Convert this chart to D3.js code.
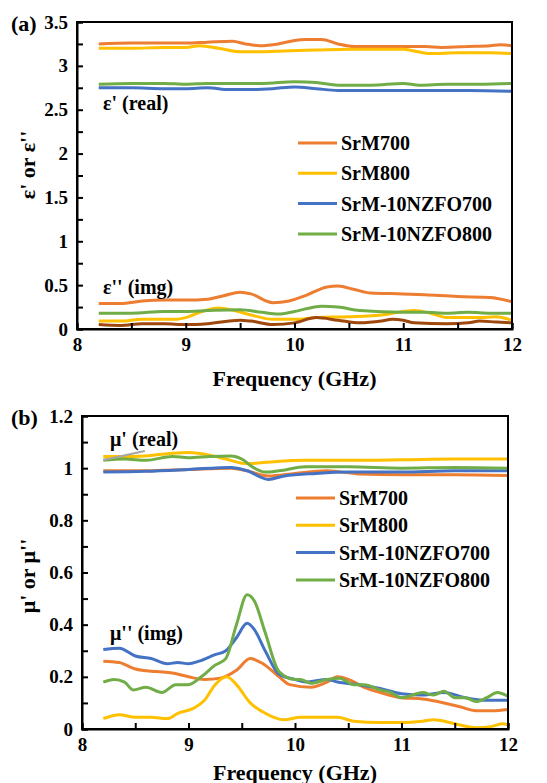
<!DOCTYPE html>
<html>
<head>
<meta charset="utf-8">
<script src="https://cdn.jsdelivr.net/npm/d3@7"></script>
<style>
  body { margin: 0; background: #fff; }
  svg { display: block; }
</style>
</head>
<body>
<svg id="chart" width="547" height="783" font-family="Liberation Serif" font-weight="bold"></svg>
<script>
// permittivity / permeability vs frequency, two panels
const names = ["SrM700", "SrM800", "SrM-10NZFO700", "SrM-10NZFO800"];
const colors = ["#ED7D31", "#FFC000", "#4472C4", "#70AD47"];
const brown = "#9E480E";
const serif = "Liberation Serif";

const xTicks = [8, 9, 10, 11, 12];
const epsTicks = [0, 0.5, 1, 1.5, 2, 2.5, 3, 3.5];
const muTicks = [0, 0.2, 0.4, 0.6, 0.8, 1, 1.2];

// (a) eps' real part
const epsReal = [
  [[8.2,3.25],[8.5,3.26],[8.8,3.26],[9.0,3.26],[9.2,3.27],[9.43,3.28],[9.55,3.25],[9.68,3.23],[9.85,3.25],[10.0,3.29],[10.1,3.30],[10.25,3.30],[10.4,3.25],[10.55,3.22],[10.8,3.22],[11.0,3.22],[11.2,3.22],[11.35,3.21],[11.6,3.22],[11.8,3.23],[11.9,3.24],[12.0,3.23]],
  [[8.2,3.2],[8.5,3.2],[8.8,3.21],[9.0,3.21],[9.13,3.23],[9.3,3.2],[9.5,3.16],[9.7,3.16],[9.9,3.17],[10.2,3.18],[10.5,3.19],[10.8,3.19],[11.0,3.19],[11.1,3.17],[11.25,3.14],[11.5,3.15],[11.8,3.15],[12.0,3.14]],
  [[8.2,2.75],[8.5,2.75],[8.8,2.74],[9.0,2.74],[9.2,2.75],[9.4,2.73],[9.6,2.73],[9.8,2.74],[10.0,2.76],[10.2,2.74],[10.4,2.72],[10.8,2.72],[11.2,2.72],[11.6,2.72],[12.0,2.71]],
  [[8.2,2.79],[8.5,2.8],[8.8,2.8],[9.0,2.79],[9.2,2.8],[9.5,2.8],[9.7,2.8],[10.0,2.82],[10.2,2.81],[10.4,2.78],[10.7,2.78],[11.0,2.8],[11.15,2.78],[11.4,2.79],[11.7,2.79],[12.0,2.8]]
];
// (a) eps'' imaginary part (the third one is drawn brown in the original)
const epsImg = [
  [[8.2,0.29],[8.4,0.29],[8.6,0.32],[8.8,0.33],[9.0,0.33],[9.2,0.34],[9.35,0.38],[9.5,0.42],[9.6,0.40],[9.8,0.30],[9.95,0.32],[10.1,0.38],[10.3,0.48],[10.4,0.49],[10.55,0.45],[10.7,0.41],[11.0,0.40],[11.2,0.39],[11.5,0.37],[11.8,0.36],[12.0,0.31]],
  [[8.2,0.09],[8.4,0.09],[8.6,0.11],[8.9,0.11],[9.0,0.13],[9.15,0.2],[9.3,0.24],[9.45,0.21],[9.6,0.16],[9.8,0.11],[10.0,0.11],[10.2,0.13],[10.5,0.14],[10.8,0.16],[11.0,0.2],[11.1,0.21],[11.25,0.18],[11.4,0.13],[11.7,0.13],[11.85,0.14],[12.0,0.1]],
  [[8.2,0.05],[8.4,0.04],[8.6,0.06],[8.8,0.06],[9.0,0.05],[9.2,0.06],[9.5,0.1],[9.6,0.09],[9.8,0.05],[10.0,0.07],[10.2,0.13],[10.4,0.1],[10.6,0.07],[10.8,0.09],[10.9,0.11],[11.0,0.1],[11.1,0.07],[11.4,0.06],[11.6,0.07],[11.7,0.09],[11.85,0.08],[12.0,0.07]],
  [[8.2,0.18],[8.5,0.18],[8.8,0.2],[9.0,0.2],[9.2,0.21],[9.5,0.22],[9.7,0.19],[9.85,0.17],[10.0,0.2],[10.25,0.26],[10.4,0.25],[10.6,0.21],[11.0,0.19],[11.2,0.19],[11.4,0.18],[11.6,0.19],[11.8,0.18],[12.0,0.18]]
];
// (b) mu' real part
const muReal = [
  [[8.2,0.99],[8.6,0.99],[9.0,0.995],[9.4,1.0],[9.55,0.99],[9.75,0.97],[10.0,0.98],[10.3,0.99],[10.6,0.978],[11.0,0.975],[11.5,0.975],[12.0,0.972]],
  [[8.2,1.045],[8.5,1.045],[8.8,1.055],[9.0,1.06],[9.2,1.05],[9.35,1.035],[9.55,1.017],[9.8,1.025],[10.1,1.03],[10.5,1.03],[11.0,1.032],[11.5,1.035],[12.0,1.035]],
  [[8.2,0.985],[8.6,0.988],[9.0,0.995],[9.4,1.003],[9.55,0.99],[9.75,0.957],[9.9,0.97],[10.2,0.98],[10.5,0.985],[11.0,0.985],[11.5,0.99],[12.0,0.99]],
  [[8.2,1.03],[8.4,1.035],[8.6,1.03],[8.85,1.045],[9.0,1.04],[9.2,1.045],[9.4,1.047],[9.5,1.035],[9.6,1.005],[9.72,0.985],[9.85,0.99],[10.1,1.005],[10.5,1.005],[11.0,1.0],[11.5,1.003],[12.0,1.0]]
];
// (b) mu'' imaginary part
const muImg = [
  [[8.2,0.26],[8.35,0.255],[8.5,0.23],[8.7,0.22],[8.85,0.215],[9.0,0.2],[9.15,0.19],[9.3,0.195],[9.45,0.225],[9.58,0.27],[9.7,0.25],[9.85,0.2],[9.95,0.17],[10.15,0.16],[10.3,0.18],[10.4,0.2],[10.5,0.19],[10.65,0.16],[10.8,0.14],[11.0,0.12],[11.2,0.115],[11.4,0.1],[11.55,0.085],[11.7,0.07],[11.85,0.07],[12.0,0.075]],
  [[8.2,0.04],[8.35,0.055],[8.5,0.045],[8.65,0.045],[8.8,0.04],[8.9,0.06],[9.05,0.08],[9.15,0.11],[9.25,0.17],[9.36,0.2],[9.45,0.17],[9.58,0.1],[9.7,0.065],[9.9,0.035],[10.05,0.045],[10.2,0.045],[10.4,0.045],[10.55,0.03],[10.8,0.025],[11.0,0.025],[11.2,0.03],[11.3,0.035],[11.45,0.025],[11.55,0.015],[11.7,0.005],[11.85,0.01],[11.95,0.02],[12.0,0.015]],
  [[8.2,0.305],[8.35,0.31],[8.5,0.28],[8.65,0.27],[8.8,0.25],[8.9,0.255],[9.0,0.25],[9.1,0.26],[9.25,0.285],[9.35,0.3],[9.45,0.35],[9.55,0.405],[9.62,0.38],[9.72,0.3],[9.85,0.21],[10.0,0.19],[10.1,0.18],[10.3,0.19],[10.4,0.18],[10.6,0.17],[10.8,0.155],[11.0,0.135],[11.2,0.13],[11.4,0.14],[11.6,0.12],[11.8,0.11],[12.0,0.11]],
  [[8.2,0.18],[8.3,0.19],[8.4,0.18],[8.48,0.15],[8.6,0.16],[8.75,0.14],[8.88,0.17],[9.0,0.17],[9.12,0.2],[9.25,0.245],[9.35,0.27],[9.45,0.4],[9.55,0.515],[9.62,0.49],[9.72,0.37],[9.85,0.22],[10.0,0.19],[10.05,0.19],[10.15,0.175],[10.3,0.19],[10.42,0.195],[10.55,0.17],[10.65,0.17],[10.8,0.15],[10.9,0.14],[11.0,0.12],[11.2,0.14],[11.3,0.13],[11.4,0.145],[11.5,0.12],[11.6,0.12],[11.7,0.105],[11.8,0.12],[11.9,0.14],[12.0,0.125]]
];
// pointer line next to the mu' label
const muPointer = [[8.2,1.031],[8.59,1.066]];

const svg = d3.select("#chart");

function panel(opt) {
    const x = d3.scaleLinear().domain([8, 12]).range([opt.left, opt.right]);
    const y = d3.scaleLinear().domain([0, opt.ymax]).range([opt.bottom, opt.top]);
    const g = svg.append("g");

    const line = d3.line().x(d => x(d[0])).y(d => y(d[1])).curve(d3.curveMonotoneX);

    // data lines
    opt.img.forEach((s, i) => {
        g.append("path").datum(s)
            .attr("fill", "none")
            .attr("stroke", opt.imgColors[i])
            .attr("stroke-width", 3)
            .attr("d", line);
    });
    opt.real.forEach((s, i) => {
        g.append("path").datum(s)
            .attr("fill", "none")
            .attr("stroke", colors[i])
            .attr("stroke-width", 3)
            .attr("d", line);
    });

    // frame
    g.append("rect")
        .attr("x", opt.left).attr("y", opt.top)
        .attr("width", opt.right - opt.left).attr("height", opt.bottom - opt.top)
        .attr("fill", "none").attr("stroke", "#000").attr("stroke-width", 2);

    // axes, ticks point inward
    const xAll = d3.range(0, 9).map(i => 8 + i * 0.5);
    const xa = g.append("g")
        .attr("transform", `translate(0,${opt.bottom})`)
        .call(d3.axisBottom(x).tickValues(xAll).tickSize(-6).tickPadding(9)
            .tickFormat(d => xTicks.includes(d) ? d : ""));
    const nMinor = Math.round(opt.ymax / opt.minor);
    const yAll = d3.range(0, nMinor + 1).map(i => +(i * opt.minor).toFixed(3));
    const ya = g.append("g")
        .attr("transform", `translate(${opt.left},0)`)
        .call(d3.axisLeft(y).tickValues(yAll).tickSize(-6).tickPadding(9)
            .tickFormat(d => opt.yTicks.includes(d) ? String(d) : ""));
    [xa, ya].forEach(a => {
        a.attr("font-family", serif).attr("font-weight", "bold").attr("font-size", 19);
        a.select(".domain").attr("stroke-width", 2);
        a.selectAll(".tick line").attr("stroke-width", 2);
        a.selectAll("text").attr("fill", "#000");
    });

    // titles
    g.append("text")
        .attr("x", (opt.left + opt.right) / 2).attr("y", opt.xTitleY)
        .attr("text-anchor", "middle").attr("font-size", 22)
        .text("Frequency (GHz)");
    g.append("text")
        .attr("transform", `translate(35,${opt.yTitleY}) rotate(-90)`)
        .attr("text-anchor", "middle").attr("font-size", 22)
        .text(opt.yTitle);
    g.append("text")
        .attr("x", 11).attr("y", opt.top + 9)
        .attr("font-size", 22)
        .text(opt.tag);

    // annotations
    opt.notes.forEach(n => {
        g.append("text").attr("x", n.x).attr("y", n.y)
            .attr("font-size", 20).text(n.t);
    });

    // legend
    names.forEach((nm, i) => {
        const ly = opt.legY + i * opt.legStep;
        g.append("line")
            .attr("x1", opt.legX).attr("x2", opt.legX + 39)
            .attr("y1", ly).attr("y2", ly)
            .attr("stroke", colors[i]).attr("stroke-width", 3);
        g.append("text")
            .attr("x", opt.legX + 43).attr("y", ly + 7)
            .attr("font-size", 20).text(nm);
    });

    return { x, y, g };
}

panel({
    left: 77, right: 512, top: 22, bottom: 329, ymax: 3.5, minor: 0.25,
    yTicks: epsTicks, real: epsReal, img: epsImg,
    imgColors: [colors[0], colors[1], brown, colors[3]],
    xTitleY: 386, yTitleY: 165, yTitle: "ε' or ε''", tag: "(a)",
    notes: [{x: 103, y: 110, t: "ε' (real)"}, {x: 103, y: 294, t: "ε'' (img)"}],
    legX: 298, legY: 143, legStep: 30.3
});

const pb = panel({
    left: 82, right: 508, top: 416, bottom: 729, ymax: 1.2, minor: 0.1,
    yTicks: muTicks, real: muReal, img: muImg,
    imgColors: colors,
    xTitleY: 780, yTitleY: 576, yTitle: "μ' or μ''", tag: "(b)",
    notes: [{x: 110, y: 446, t: "μ' (real)"}, {x: 110, y: 640, t: "μ'' (img)"}],
    legX: 296, legY: 498, legStep: 27.3
});

pb.g.append("line")
    .attr("x1", pb.x(muPointer[0][0])).attr("y1", pb.y(muPointer[0][1]))
    .attr("x2", pb.x(muPointer[1][0])).attr("y2", pb.y(muPointer[1][1]))
    .attr("stroke", "#A5A5A5").attr("stroke-width", 2);
</script>
</body>
</html>
